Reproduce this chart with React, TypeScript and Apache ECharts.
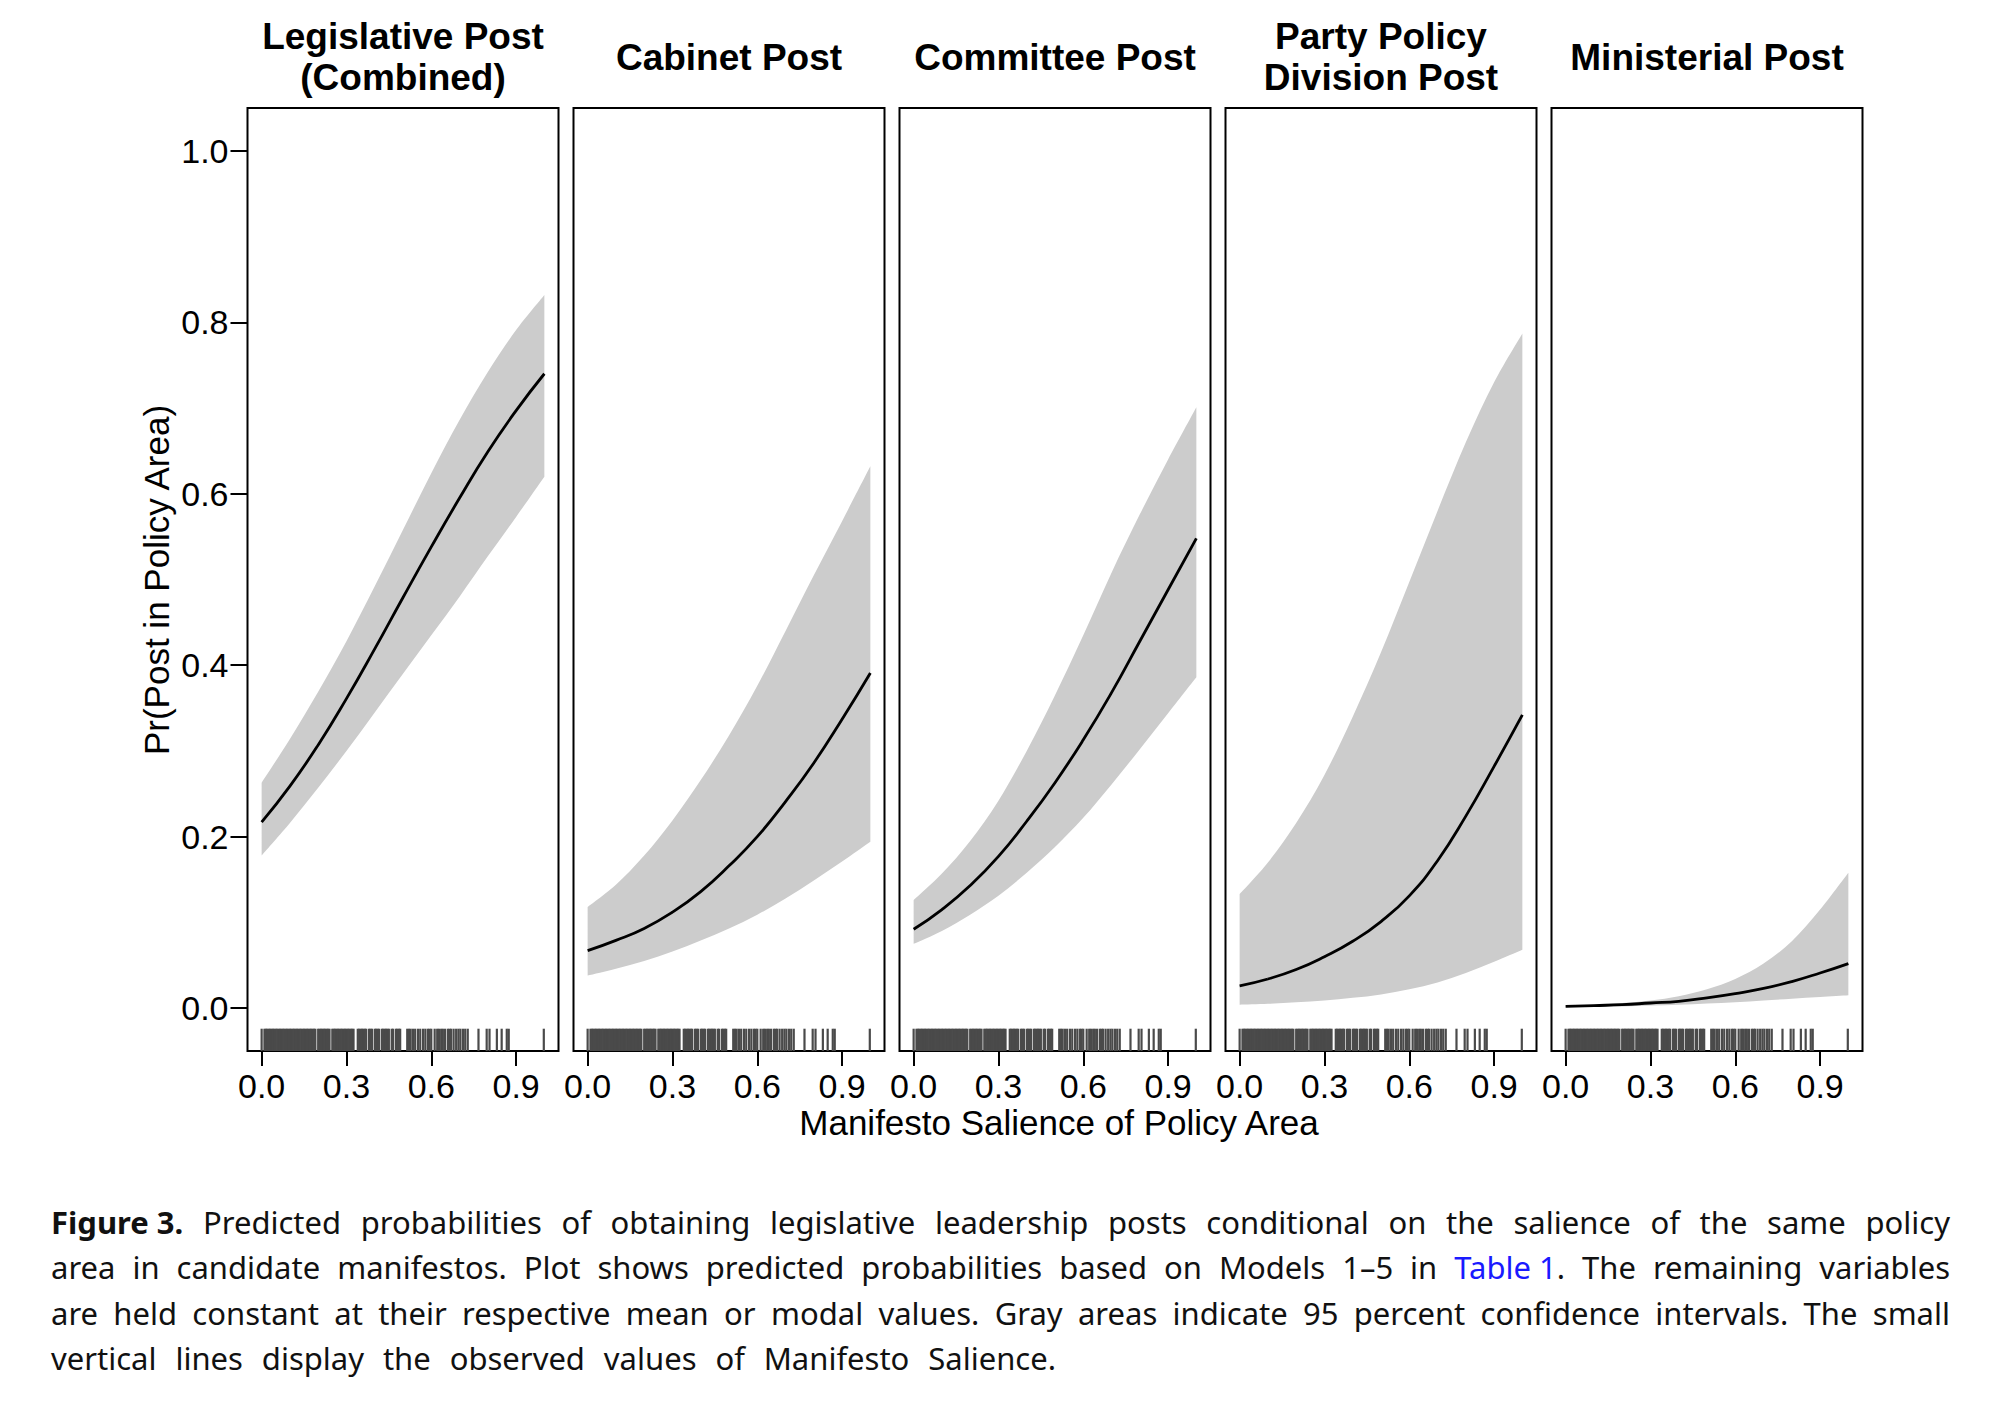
import React, { useEffect, useRef } from "react";
import * as echarts from "echarts";

// ---------- data ----------
const SALIENCE_GRID = [0, 0.1, 0.2, 0.3, 0.4, 0.5, 0.6, 0.7, 0.8, 0.9, 1.0];

const PANEL_TITLES = [
  "Legislative Post\n(Combined)",
  "Cabinet Post",
  "Committee Post",
  "Party Policy\nDivision Post",
  "Ministerial Post",
];

const LEG_LOWER = [0.178, 0.216, 0.257, 0.3, 0.345, 0.39, 0.435, 0.48, 0.527, 0.573, 0.62];
const LEG_FIT = [0.217, 0.259, 0.307, 0.361, 0.419, 0.479, 0.538, 0.595, 0.649, 0.697, 0.74];
const LEG_UPPER = [0.263, 0.314, 0.369, 0.428, 0.492, 0.558, 0.624, 0.686, 0.742, 0.791, 0.832];

const CAB_LOWER = [0.038, 0.046, 0.055, 0.066, 0.079, 0.093, 0.109, 0.128, 0.149, 0.171, 0.194];
const CAB_FIT = [0.067, 0.079, 0.093, 0.112, 0.136, 0.166, 0.2, 0.241, 0.286, 0.337, 0.391];
const CAB_UPPER = [0.118, 0.144, 0.178, 0.219, 0.266, 0.318, 0.376, 0.44, 0.505, 0.568, 0.632];

const COM_LOWER = [0.075, 0.09, 0.109, 0.131, 0.158, 0.188, 0.222, 0.261, 0.302, 0.344, 0.386];
const COM_FIT = [0.092, 0.115, 0.143, 0.177, 0.218, 0.263, 0.313, 0.368, 0.428, 0.488, 0.548];
const COM_UPPER = [0.126, 0.157, 0.195, 0.242, 0.3, 0.365, 0.435, 0.508, 0.576, 0.64, 0.701];

const PPD_LOWER = [0.004, 0.005, 0.007, 0.009, 0.012, 0.016, 0.022, 0.03, 0.041, 0.054, 0.068];
const PPD_FIT = [0.026, 0.034, 0.045, 0.06, 0.078, 0.101, 0.131, 0.172, 0.224, 0.282, 0.342];
const PPD_UPPER = [0.133, 0.17, 0.216, 0.272, 0.34, 0.415, 0.497, 0.58, 0.66, 0.73, 0.787];

const MIN_LOWER = [0.001, 0.0015, 0.002, 0.003, 0.004, 0.0055, 0.007, 0.009, 0.011, 0.013, 0.015];
const MIN_FIT = [0.002, 0.003, 0.004, 0.006, 0.008, 0.012, 0.017, 0.023, 0.031, 0.041, 0.052];
const MIN_UPPER = [0.003, 0.004, 0.006, 0.009, 0.014, 0.022, 0.034, 0.052, 0.078, 0.115, 0.158];

// observed values of Manifesto Salience (rug)
const RUG_VALUES = [
  0.0,
  0.01, 0.015, 0.02, 0.025, 0.03, 0.035, 0.04, 0.045, 0.05, 0.055,
  0.06, 0.065, 0.07, 0.075, 0.08, 0.085, 0.09, 0.095, 0.1, 0.105,
  0.11, 0.115, 0.12, 0.125, 0.13, 0.135, 0.14, 0.145, 0.15, 0.155,
  0.16, 0.165, 0.17, 0.175, 0.18, 0.185, 0.19, 0.2, 0.205,
  0.21, 0.215, 0.22, 0.225, 0.23, 0.235, 0.24, 0.25, 0.255,
  0.26, 0.265, 0.27, 0.275, 0.28, 0.285, 0.29, 0.295, 0.3, 0.305,
  0.31, 0.315, 0.32, 0.325,
  0.34, 0.345, 0.35, 0.355, 0.36, 0.365, 0.37, 0.38, 0.385, 0.39,
  0.4, 0.405, 0.41, 0.415, 0.425, 0.43, 0.435, 0.44, 0.445, 0.45,
  0.46, 0.465, 0.475, 0.48, 0.485, 0.49,
  0.515, 0.521, 0.527, 0.535, 0.543, 0.553, 0.561, 0.571, 0.579, 0.588,
  0.594, 0.6, 0.612, 0.621, 0.627, 0.635, 0.641, 0.649, 0.659, 0.665,
  0.67, 0.679, 0.688, 0.696, 0.703, 0.712, 0.72, 0.729,
  0.767, 0.796, 0.806, 0.832, 0.849, 0.867, 0.874, 0.998,
];

const X_TICKS = [0, 0.3, 0.6, 0.9];
const Y_TICKS = [0, 0.2, 0.4, 0.6, 0.8, 1.0];

const X_AXIS_TITLE = "Manifesto Salience of Policy Area";
const Y_AXIS_TITLE = "Pr(Post in Policy Area)";

const CAPTION_LINES = [
  "{b|Figure 3.} Predicted probabilities of obtaining legislative leadership posts conditional on the salience of the same policy",
  "area in candidate manifestos. Plot shows predicted probabilities based on Models 1–5 in {l|Table 1}. The remaining variables",
  "are held constant at their respective mean or modal values. Gray areas indicate 95 percent confidence intervals. The small",
  "vertical lines display the observed values of Manifesto Salience.",
];

// ---------- layout ----------
const X_MIN = -0.05;
const X_MAX = 1.05;
const Y_MIN = -0.05;
const Y_MAX = 1.05;
const RUG_TOP = -0.024;

const GRID_LEFT0 = 247.5;
const GRID_STEP = 326;
const GRID_W = 311;
const GRID_TOP = 108;
const GRID_H = 943;

const SANS = "Liberation Sans";
const CAP_FONT = "Noto Sans";
const CAP_SIZE = 31;
const CAP_LEFT = 51;
const CAP_WIDTHS = [1899, 1899, 1899, 1005];
const CAP_Y = [1222, 1267, 1313, 1358];

function splitTokens(line: string): string[] {
  const out: string[] = [];
  let cur = "";
  let depth = 0;
  for (const ch of line) {
    if (ch === "{") depth++;
    if (ch === "}") depth--;
    if (ch === " " && depth === 0) {
      if (cur) out.push(cur);
      cur = "";
    } else cur += ch;
  }
  if (cur) out.push(cur);
  return out;
}

function measureToken(ctx: CanvasRenderingContext2D, tok: string): number {
  const re = /\{(\w)\|([^}]*)\}|([^{]+)/g;
  let m: RegExpExecArray | null;
  let w = 0;
  while ((m = re.exec(tok))) {
    const bold = m[1] === "b";
    const txt = m[2] !== undefined ? m[2] : m[3];
    ctx.font = `${bold ? "bold " : ""}${CAP_SIZE}px "${CAP_FONT}"`;
    w += ctx.measureText(txt).width;
  }
  return w;
}

// smooth path through pixel points (Catmull-Rom as cubic Bezier segments)
function curvePath(pts: number[][], moveFirst: boolean): string {
  let d = (moveFirst ? "M" : "L") + pts[0][0].toFixed(2) + " " + pts[0][1].toFixed(2);
  for (let i = 0; i < pts.length - 1; i++) {
    const p0 = pts[Math.max(0, i - 1)];
    const p1 = pts[i];
    const p2 = pts[i + 1];
    const p3 = pts[Math.min(pts.length - 1, i + 2)];
    const c1x = p1[0] + (p2[0] - p0[0]) / 6;
    const c1y = p1[1] + (p2[1] - p0[1]) / 6;
    const c2x = p2[0] - (p3[0] - p1[0]) / 6;
    const c2y = p2[1] - (p3[1] - p1[1]) / 6;
    d += ` C${c1x.toFixed(2)} ${c1y.toFixed(2)} ${c2x.toFixed(2)} ${c2y.toFixed(2)} ${p2[0].toFixed(2)} ${p2[1].toFixed(2)}`;
  }
  return d;
}

export default function App() {
  const ref = useRef<HTMLDivElement>(null);

  useEffect(() => {
    document.body.style.margin = "0";
    if (!ref.current) return;
    const chart = echarts.init(ref.current, undefined, { renderer: "svg" });

    const panels = [
      { lower: LEG_LOWER, fit: LEG_FIT, upper: LEG_UPPER },
      { lower: CAB_LOWER, fit: CAB_FIT, upper: CAB_UPPER },
      { lower: COM_LOWER, fit: COM_FIT, upper: COM_UPPER },
      { lower: PPD_LOWER, fit: PPD_FIT, upper: PPD_UPPER },
      { lower: MIN_LOWER, fit: MIN_FIT, upper: MIN_UPPER },
    ];

    const grids: any[] = [];
    const xAxes: any[] = [];
    const yAxes: any[] = [];
    const series: any[] = [];
    const graphics: any[] = [];

    panels.forEach((p, i) => {
      const left = GRID_LEFT0 + i * GRID_STEP;
      grids.push({
        left,
        top: GRID_TOP,
        width: GRID_W,
        height: GRID_H,
        show: true,
        borderColor: "#000",
        borderWidth: 2,
        backgroundColor: "transparent",
      });
      xAxes.push({
        type: "value",
        gridIndex: i,
        min: X_MIN,
        max: X_MAX,
        position: "bottom",
        axisLine: { show: false, onZero: false },
        splitLine: { show: false },
        axisTick: {
          show: true,
          customValues: X_TICKS,
          length: 15,
          lineStyle: { color: "#000", width: 2 },
        },
        axisLabel: {
          show: true,
          customValues: X_TICKS,
          formatter: (v: number) => v.toFixed(1),
          fontSize: 34,
          fontFamily: SANS,
          color: "#000",
          margin: 18,
        },
      });
      yAxes.push({
        type: "value",
        gridIndex: i,
        min: Y_MIN,
        max: Y_MAX,
        position: "left",
        axisLine: { show: false, onZero: false },
        splitLine: { show: false },
        axisTick: {
          show: i === 0,
          customValues: Y_TICKS,
          length: 17,
          lineStyle: { color: "#000", width: 2 },
        },
        axisLabel: {
          show: i === 0,
          customValues: Y_TICKS,
          formatter: (v: number) => v.toFixed(1),
          fontSize: 34,
          fontFamily: SANS,
          color: "#000",
          margin: 19,
        },
      });

      // 95% confidence band between lower and upper bounds
      series.push({
        type: "custom",
        xAxisIndex: i,
        yAxisIndex: i,
        data: [[0, 0]],
        encode: { x: 0, y: 1 },
        silent: true,
        z: 1,
        renderItem: (params: any, api: any) => {
          const up = SALIENCE_GRID.map((x, k) => api.coord([x, p.upper[k]]));
          const lo = SALIENCE_GRID.map((x, k) => api.coord([x, p.lower[k]])).reverse();
          const d = curvePath(up, true) + " " + curvePath(lo, false) + " Z";
          return {
            type: "path",
            shape: { pathData: d },
            style: { fill: "#cccccc", stroke: "none" },
          };
        },
      });
      series.push({
        type: "line",
        xAxisIndex: i,
        yAxisIndex: i,
        data: SALIENCE_GRID.map((x, k) => [x, p.fit[k]]),
        smooth: 0.5,
        symbol: "none",
        lineStyle: { color: "#000", width: 2.8 },
        silent: true,
        z: 3,
      });
      series.push({
        type: "custom",
        xAxisIndex: i,
        yAxisIndex: i,
        data: RUG_VALUES.map((v) => [v, Y_MIN]),
        encode: { x: 0, y: 1 },
        silent: true,
        z: 2,
        renderItem: (params: any, api: any) => {
          const x = api.value(0);
          const a = api.coord([x, Y_MIN]);
          const b = api.coord([x, RUG_TOP]);
          return {
            type: "line",
            shape: { x1: a[0], y1: a[1], x2: b[0], y2: b[1] },
            style: { stroke: "#4a4a4a", lineWidth: 2.2 },
          };
        },
      });

      graphics.push({
        type: "text",
        x: left + GRID_W / 2,
        y: 57,
        style: {
          text: PANEL_TITLES[i],
          fontSize: 37,
          fontWeight: "bold",
          fontFamily: SANS,
          lineHeight: 41,
          fill: "#000",
          textAlign: "center",
          textVerticalAlign: "middle",
        },
      });
    });

    graphics.push({
      type: "text",
      x: 1059,
      y: 1122,
      style: {
        text: X_AXIS_TITLE,
        fontSize: 35,
        fontFamily: SANS,
        fill: "#000",
        textAlign: "center",
        textVerticalAlign: "middle",
      },
    });
    graphics.push({
      type: "text",
      x: 156,
      y: 580,
      rotation: Math.PI / 2,
      style: {
        text: Y_AXIS_TITLE,
        fontSize: 35,
        fontFamily: SANS,
        fill: "#000",
        textAlign: "center",
        textVerticalAlign: "middle",
      },
    });

    // justified caption, placed word by word
    const canvas = document.createElement("canvas");
    const ctx = canvas.getContext("2d") as CanvasRenderingContext2D;
    const rich = {
      b: { fontSize: CAP_SIZE, fontFamily: CAP_FONT, fontWeight: "bold", fill: "#111" },
      l: { fontSize: CAP_SIZE, fontFamily: CAP_FONT, fill: "#1a1aff" },
    };
    CAPTION_LINES.forEach((line, k) => {
      const toks = splitTokens(line);
      const widths = toks.map((t) => measureToken(ctx, t));
      const total = widths.reduce((a, b) => a + b, 0);
      const gap = toks.length > 1 ? (CAP_WIDTHS[k] - total) / (toks.length - 1) : 0;
      let x = CAP_LEFT;
      toks.forEach((t, j) => {
        graphics.push({
          type: "text",
          x,
          y: CAP_Y[k],
          style: {
            text: t,
            fontSize: CAP_SIZE,
            fontFamily: CAP_FONT,
            fill: "#111",
            textAlign: "left",
            textVerticalAlign: "middle",
            rich,
          },
        });
        x += widths[j] + gap;
      });
    });

    chart.setOption({
      animation: false,
      backgroundColor: "#fff",
      grid: grids,
      xAxis: xAxes,
      yAxis: yAxes,
      series,
      graphic: graphics,
    });

    return () => chart.dispose();
  }, []);

  return <div ref={ref} style={{ width: 2000, height: 1418 }} />;
}
